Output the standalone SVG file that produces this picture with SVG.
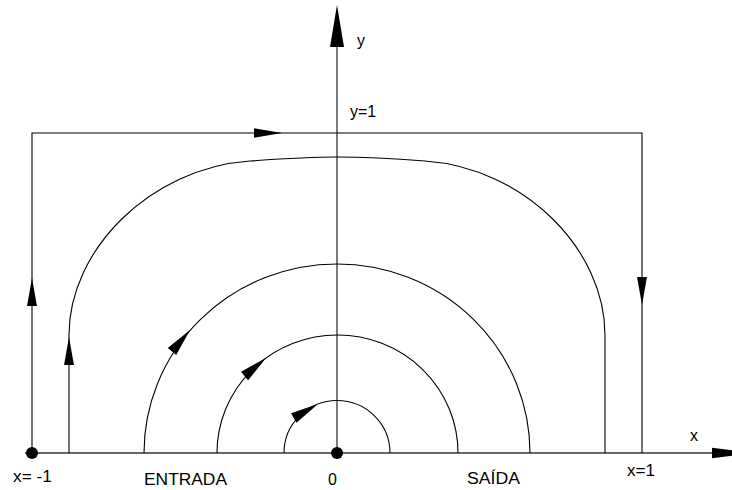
<svg xmlns="http://www.w3.org/2000/svg" xmlns:xlink="http://www.w3.org/1999/xlink" width="732" height="490" viewBox="0 0 732 490">
<style>
.ln{fill:none;stroke:#000;stroke-width:1.1}
.ax{fill:none;stroke:#333;stroke-width:1.3}
.ah{fill:#000;stroke:none}
.t{font-family:"Liberation Sans",Arial,sans-serif;font-size:16px;fill:#000}
</style>
<defs>
<path id="ah" d="M0,0 L-28,-5.5 L-28,5.5 Z"/>
<path id="axh" d="M0,0 L-42,-7 L-42,7 Z"/>
</defs>
<rect width="732" height="490" fill="#fff"/>
<g id="axes">
<line class="ax" x1="25" y1="453" x2="714" y2="453"/>
<line class="ax" x1="337" y1="45" x2="337" y2="453"/>
<use href="#axh" class="ah" transform="translate(754,453) scale(1,0.75)"/>
<use href="#axh" class="ah" transform="translate(337,5) rotate(-90)"/>
</g>
<g id="connectors">
<path id="box" class="ln" d="M32,453 L32,133 L642,133 L642,453"/>
<path id="big" class="ln" d="M69,453 L69,335 C69,250 150,168 250,161 C285,158.5 310,157 337,157 C370,157 400,159 425,161 C525,168 605,250 605,335 L605,453"/>
<path id="outer" class="ln" d="M144,453 A193,189 0 0 1 530,453"/>
<path id="middle" class="ln" d="M217,453 A120.5,118 0 0 1 458,453"/>
<path id="inner" class="ln" d="M284,453 A53,52.5 0 0 1 390,453"/>
<use href="#ah" class="ah" transform="translate(282,133) scale(1,0.85)"/>
<use href="#ah" class="ah" transform="translate(32,278) rotate(-90) scale(1,0.9)"/>
<use href="#ah" class="ah" transform="translate(642,305) rotate(90) scale(1,0.9)"/>
<use href="#ah" class="ah" transform="translate(69,337) rotate(-90) scale(1,0.9)"/>
<use href="#ah" class="ah" transform="translate(190,330) rotate(-50)"/>
<use href="#ah" class="ah" transform="translate(266,358) rotate(-40)"/>
<use href="#ah" class="ah" transform="translate(318,404) rotate(-30)"/>
</g>
<g id="dots">
<circle cx="32" cy="453" r="6" fill="#000"/>
<circle cx="337" cy="453" r="6" fill="#000"/>
</g>
<g id="labels">
<text class="t" x="357" y="46">y</text>
<text class="t" x="350" y="117">y=1</text>
<text class="t" x="690" y="441">x</text>
<text class="t" x="627" y="476" textLength="28" lengthAdjust="spacingAndGlyphs">x=1</text>
<text class="t" x="13" y="482" textLength="39" lengthAdjust="spacingAndGlyphs">x= -1</text>
<text class="t" x="144" y="485" textLength="83" lengthAdjust="spacingAndGlyphs">ENTRADA</text>
<text class="t" x="328" y="485">0</text>
<text class="t" x="467" y="484" textLength="53" lengthAdjust="spacingAndGlyphs">SAÍDA</text>
</g>
</svg>
